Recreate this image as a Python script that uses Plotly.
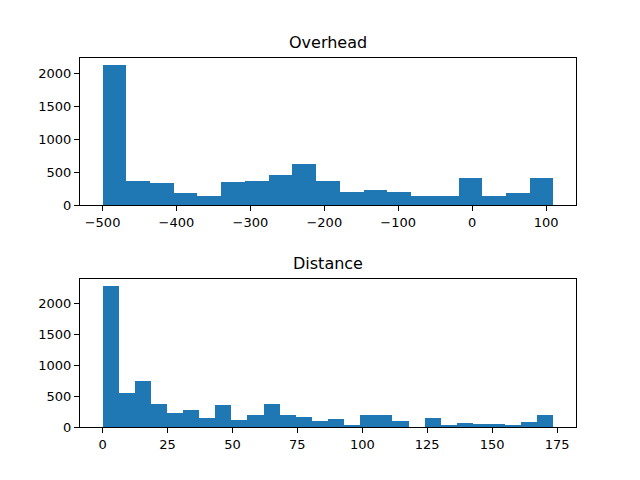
import plotly.graph_objects as go
from plotly.subplots import make_subplots

# Overhead histogram: 19 bins from -500 to 110
overhead_start = -500
overhead_width = 32.105
overhead_counts = [2128, 365, 334, 182, 142, 350, 365, 456, 623, 365,
                   198, 228, 198, 142, 142, 410, 142, 182, 410]

# Distance histogram: 28 bins from 0 to ~173.6
distance_start = 0
distance_width = 6.2
distance_counts = [2280, 550, 744, 372, 226, 275, 146, 356, 113, 194,
                   372, 194, 162, 97, 129, 32, 194, 194, 97, 0,
                   146, 32, 65, 49, 49, 16, 81, 194]

blue = "#1f77b4"


def centers(start, width, n):
    return [start + width * (i + 0.5) for i in range(n)]


fig = make_subplots(rows=2, cols=1, vertical_spacing=0.2)

fig.add_trace(go.Bar(x=centers(overhead_start, overhead_width, len(overhead_counts)),
                     y=overhead_counts, width=overhead_width,
                     marker=dict(color=blue, line=dict(width=0))), row=1, col=1)
fig.add_trace(go.Bar(x=centers(distance_start, distance_width, len(distance_counts)),
                     y=distance_counts, width=distance_width,
                     marker=dict(color=blue, line=dict(width=0))), row=2, col=1)

ax = dict(showline=True, linecolor="black", linewidth=1, mirror=True,
          ticks="outside", ticklen=5, tickcolor="black", showgrid=False,
          zeroline=False, automargin=False, tickfont=dict(size=13, color="black"))

o_end = overhead_start + overhead_width * len(overhead_counts)
o_pad = (o_end - overhead_start) * 0.05
d_end = distance_start + distance_width * len(distance_counts)
d_pad = (d_end - distance_start) * 0.05

# the page body adds an 8px offset, so the figure is a bit smaller than the window
fig.update_layout(
    width=624, height=464, showlegend=False, bargap=0,
    paper_bgcolor="white", plot_bgcolor="white",
    font=dict(family="DejaVu Sans", color="black"),
    margin=dict(l=72, r=56, t=50, b=45),
    xaxis=dict(ax, range=[overhead_start - o_pad, o_end + o_pad],
               tickvals=[-500, -400, -300, -200, -100, 0, 100],
               ticktext=["\u2212500", "\u2212400", "\u2212300", "\u2212200", "\u2212100", "0", "100"]),
    yaxis=dict(ax, range=[0, max(overhead_counts) * 1.05], domain=[0.6016, 1],
               tickvals=[0, 500, 1000, 1500, 2000]),
    xaxis2=dict(ax, range=[distance_start - d_pad, d_end + d_pad],
                tickvals=[0, 25, 50, 75, 100, 125, 150, 175]),
    yaxis2=dict(ax, range=[0, max(distance_counts) * 1.05], domain=[0, 0.401],
                tickvals=[0, 500, 1000, 1500, 2000]),
    annotations=[
        dict(text="Overhead", x=0.5, y=1, xref="paper", yref="paper",
             xanchor="center", yanchor="bottom", yshift=4, showarrow=False,
             font=dict(size=16)),
        dict(text="Distance", x=0.5, y=0.401, xref="paper", yref="paper",
             xanchor="center", yanchor="bottom", yshift=4, showarrow=False,
             font=dict(size=16)),
    ],
)

fig.write_html("out.html")
